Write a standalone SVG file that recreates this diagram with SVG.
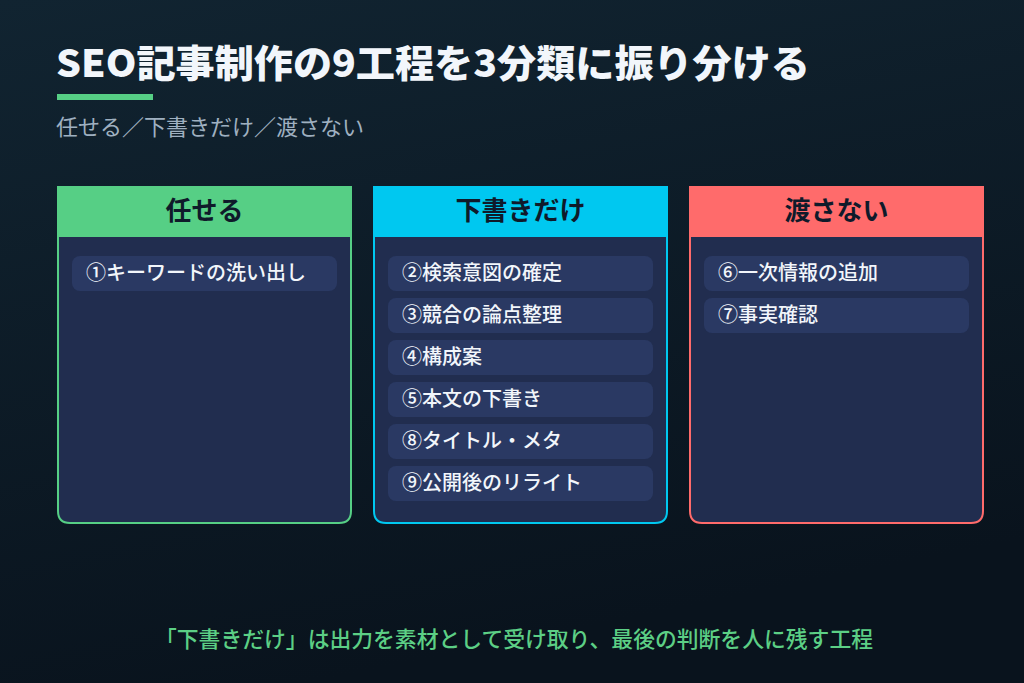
<svg xmlns="http://www.w3.org/2000/svg" width="1024" height="683" viewBox="0 0 1024 683">
<defs>
<linearGradient id="bg" x1="0" y1="0" x2="0.3" y2="1">
<stop offset="0" stop-color="#112431"/>
<stop offset="1" stop-color="#09131d"/>
</linearGradient>
</defs>
<style>
text{font-family:"Noto Sans CJK JP","Noto Sans",sans-serif}
.title{font-size:38px;font-weight:900;fill:#f2f6fb}
.sub{font-size:22px;fill:#9fb0c0}
.body{fill:#212d4f}
.item{fill:#2a3963}
.itxt{font-size:20px;font-weight:500;fill:#f2f6fb}
.htxt{font-size:26px;font-weight:700;fill:#0f1a2a;text-anchor:middle}
.foot{font-size:22px;font-weight:500;fill:#5ccf85;text-anchor:middle}
</style>
<rect width="1024" height="683" fill="url(#bg)"/>
<text class="title" x="56" y="77" textLength="754" lengthAdjust="spacingAndGlyphs">SEO記事制作の9工程を3分類に振り分ける</text>
<rect x="57" y="94" width="96" height="6" fill="#56cf85"/>
<text class="sub" x="56" y="135">任せる／下書きだけ／渡さない</text>

<g id="col-makaseru">
<path d="M58 187 H351 V511 Q351 523 339 523 H70 Q58 523 58 511 Z" class="body" stroke="#56cf85" stroke-width="2"/>
<rect x="57" y="186" width="295" height="51" fill="#56cf85"/>
<text class="htxt" x="204.5" y="220">任せる</text>
<g id="item1"><rect class="item" x="72" y="256" width="265" height="35" rx="8"/><text class="itxt" x="86" y="280">①キーワードの洗い出し</text></g>
</g>

<g id="col-shitagaki">
<path d="M374 187 H667 V511 Q667 523 655 523 H386 Q374 523 374 511 Z" class="body" stroke="#00c8f0" stroke-width="2"/>
<rect x="373" y="186" width="295" height="51" fill="#00c8f0"/>
<text class="htxt" x="520.5" y="220">下書きだけ</text>
<g id="item2"><rect class="item" x="388" y="256" width="265" height="35" rx="8"/><text class="itxt" x="402" y="280">②検索意図の確定</text></g>
<g id="item3"><rect class="item" x="388" y="298" width="265" height="35" rx="8"/><text class="itxt" x="402" y="322">③競合の論点整理</text></g>
<g id="item4"><rect class="item" x="388" y="340" width="265" height="35" rx="8"/><text class="itxt" x="402" y="364">④構成案</text></g>
<g id="item5"><rect class="item" x="388" y="382" width="265" height="35" rx="8"/><text class="itxt" x="402" y="406">⑤本文の下書き</text></g>
<g id="item8"><rect class="item" x="388" y="424" width="265" height="35" rx="8"/><text class="itxt" x="402" y="448">⑧タイトル・メタ</text></g>
<g id="item9"><rect class="item" x="388" y="466" width="265" height="35" rx="8"/><text class="itxt" x="402" y="490">⑨公開後のリライト</text></g>
</g>

<g id="col-watasanai">
<path d="M690 187 H983 V511 Q983 523 971 523 H702 Q690 523 690 511 Z" class="body" stroke="#ff6b6b" stroke-width="2"/>
<rect x="689" y="186" width="295" height="51" fill="#ff6b6b"/>
<text class="htxt" x="836.5" y="220">渡さない</text>
<g id="item6"><rect class="item" x="704" y="256" width="265" height="35" rx="8"/><text class="itxt" x="718" y="280">⑥一次情報の追加</text></g>
<g id="item7"><rect class="item" x="704" y="298" width="265" height="35" rx="8"/><text class="itxt" x="718" y="322">⑦事実確認</text></g>
</g>

<g id="connectors"/>
<text class="foot" x="514" y="647" textLength="718" lengthAdjust="spacingAndGlyphs">「下書きだけ」は出力を素材として受け取り、最後の判断を人に残す工程</text>
</svg>
